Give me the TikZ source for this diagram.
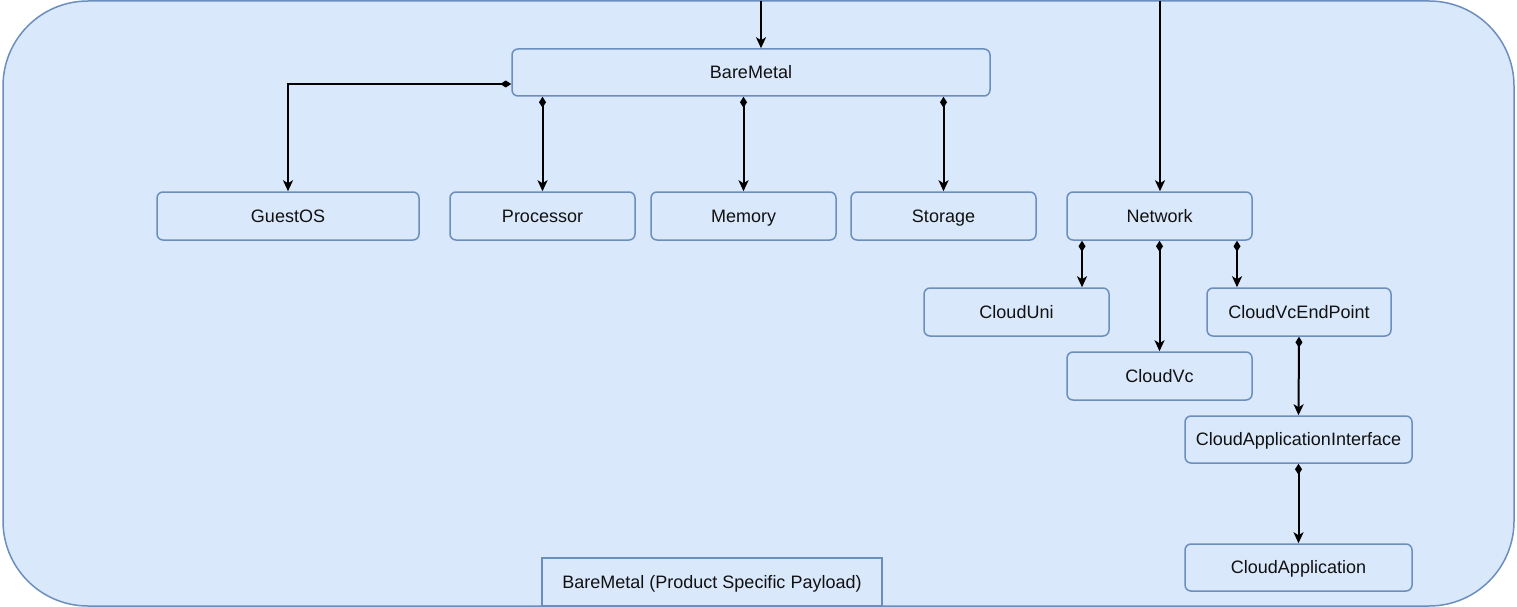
\documentclass[tikz,border=0pt]{standalone}
\usepackage{fontspec}
\setmainfont{Liberation Sans}
\usetikzlibrary{arrows.meta}
\definecolor{fillblue}{HTML}{DAE8FC}
\definecolor{lineblue}{HTML}{6C8EBF}
\definecolor{ink}{HTML}{111111}
\begin{document}
\begin{tikzpicture}[x=1pt,y=-1pt,
  box/.style={draw=lineblue, fill=fillblue, line width=1.5pt, rounded corners=6pt,
    text=ink, font=\fontsize{18}{21}\selectfont, inner sep=0pt,
    text height=15pt, text depth=3pt},
  conn/.style={draw=black, line width=2pt, -{Stealth[length=11pt,width=10pt,inset=3pt]}},
  dconn/.style={conn, {Diamond[length=11pt,width=7pt]}-{Stealth[length=11pt,width=10pt,inset=3pt]}}
]
\useasboundingbox (0,0) rectangle (1517,607);

% outer container
\draw[draw=lineblue, fill=fillblue, line width=1.5pt, rounded corners=85pt]
  (3,1) rectangle (1514,606);

% caption box at the foot of the container
\node[draw=lineblue, fill=fillblue, line width=1.5pt, text=ink,
  font=\fontsize{18}{21}\selectfont, inner sep=0pt, text height=15pt, text depth=3pt,
  minimum width=340pt, minimum height=48pt] (cap) at (712,582) {BareMetal (Product Specific Payload)};
\draw[draw=lineblue, line width=1.5pt] (cap.south west) -- (cap.south east);

% nodes
\node[box, minimum width=478pt, minimum height=47pt] (bm)  at (751,72.5)  {BareMetal};
\node[box, minimum width=262pt, minimum height=48pt] (go)  at (288,216)   {GuestOS};
\node[box, minimum width=185pt, minimum height=48pt] (pr)  at (542.5,216) {Processor};
\node[box, minimum width=185pt, minimum height=48pt] (me)  at (743.5,216) {Memory};
\node[box, minimum width=185pt, minimum height=48pt] (st)  at (943.5,216) {Storage};
\node[box, minimum width=185pt, minimum height=48pt] (nw)  at (1159.5,216) {Network};
\node[box, minimum width=185pt, minimum height=48pt] (cu)  at (1016.5,312) {CloudUni};
\node[box, minimum width=185pt, minimum height=48pt] (cv)  at (1159.5,376) {CloudVc};
\node[box, minimum width=184pt, minimum height=48pt] (ep)  at (1299,312)  {CloudVcEndPoint};
\node[box, minimum width=227pt, minimum height=47pt] (cai) at (1298.5,439.5) {CloudApplicationInterface};
\node[box, minimum width=227pt, minimum height=47pt] (ca)  at (1298.5,567.5) {CloudApplication};

% incoming links from above
\coordinate (inBM) at (761,1);
\coordinate (inNW) at (1160,1);
\draw[conn] (inBM) -- (inBM |- bm.north);
\draw[conn] (inNW) -- (inNW |- nw.north);

% BareMetal composition
\draw[dconn] ([yshift=-11.5pt]bm.west) -| (go.north);
\draw[dconn] (bm.south -| pr.north) -- (pr.north);
\draw[dconn] (bm.south -| me.north) -- (me.north);
\draw[dconn] (bm.south -| st.north) -- (st.north);

% Network composition
\draw[dconn] ([xshift=-77.5pt]nw.south) -- ([xshift=-77.5pt]nw.south |- cu.north);
\draw[dconn] (nw.south) -- (cv.north);
\draw[dconn] ([xshift=77.5pt]nw.south) -- ([xshift=77.5pt]nw.south |- ep.north);

% endpoint chain
\draw[dconn] (ep.south) -- (cai.north);
\draw[dconn] (cai.south) -- (ca.north);
\end{tikzpicture}
\end{document}
